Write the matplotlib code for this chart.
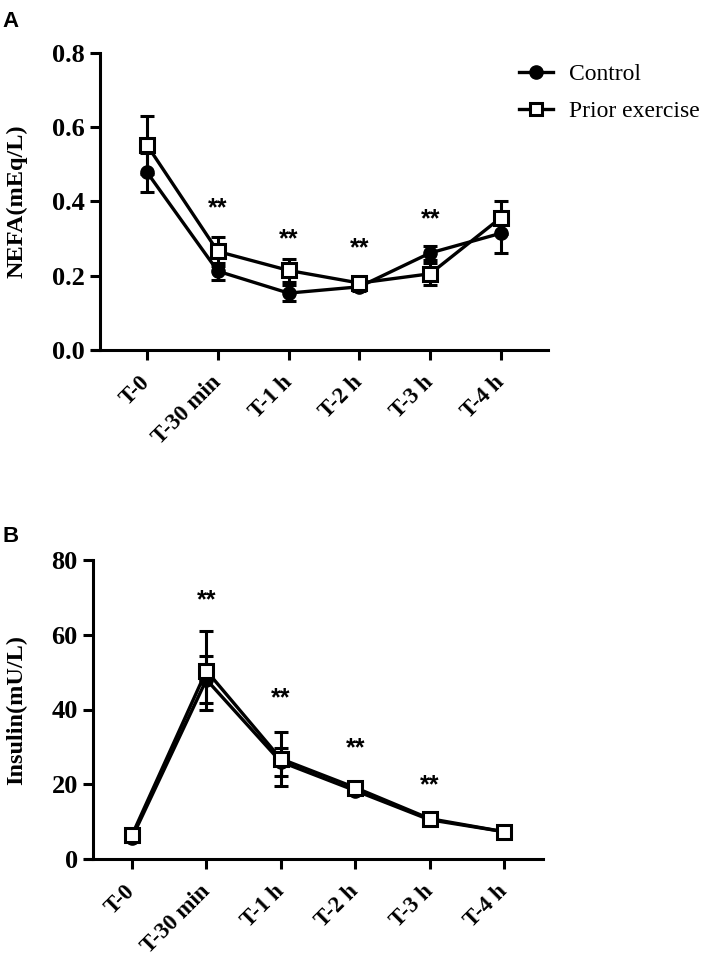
import numpy as np
import matplotlib
matplotlib.use('Agg')
import matplotlib.pyplot as plt
from matplotlib.lines import Line2D

times = ['T-0', 'T-30 min', 'T-1 h', 'T-2 h', 'T-3 h', 'T-4 h']

# NEFA (mEq/L)
nefa_control = [0.478, 0.212, 0.153, 0.170, 0.261, 0.314]
nefa_control_err = [0.052, 0.023, 0.022, 0.010, 0.020, 0.053]
nefa_prior = [0.551, 0.265, 0.214, 0.180, 0.205, 0.356]
nefa_prior_err = [0.078, 0.040, 0.032, 0.010, 0.030, 0.044]
nefa_stars = [None, 0.382, 0.298, 0.274, 0.351, None]

# Insulin (mU/L)
ins_control = [5.7, 48.0, 26.0, 18.3, 10.5, 7.3]
ins_control_err = [0.6, 6.3, 3.8, 1.0, 0.7, 0.5]
ins_prior = [6.4, 50.4, 26.8, 19.1, 10.8, 7.3]
ins_prior_err = [0.6, 10.6, 7.3, 1.0, 0.7, 0.5]
ins_stars = [None, 69.1, 43.1, 29.5, 19.8, None]

W, H = 709, 958
fig = plt.figure(figsize=(W / 100, H / 100), dpi=100)

serif = 'Liberation Serif'
sans = 'Liberation Sans'


def panel(rect, xlim, spine_x, ylim, yticks, yfmt, ylabel, ctl, ctl_e, pri, pri_e, stars):
    ax = fig.add_axes(rect)
    x = np.arange(len(times))
    ax.errorbar(x, ctl, yerr=ctl_e, color='black', lw=2.4, marker='o', ms=9.5,
                mfc='black', mec='black', capsize=5, capthick=2.2, elinewidth=2.2,
                zorder=3, clip_on=False)
    ax.errorbar(x, pri, yerr=pri_e, color='black', lw=2.4, marker='s', ms=10,
                mfc='white', mec='black', mew=2.2, capsize=5, capthick=2.2, elinewidth=2.2,
                zorder=4, clip_on=False)
    for xi, s in zip(x, stars):
        if s is not None:
            ax.text(xi, s, '**', ha='center', va='center', fontsize=18,
                    fontweight='bold', family=sans)
    ax.set_xlim(*xlim)
    ax.set_ylim(*ylim)
    ax.spines['top'].set_visible(False)
    ax.spines['right'].set_visible(False)
    ax.spines['left'].set_position(('data', spine_x))
    ax.spines['left'].set_linewidth(2.2)
    ax.spines['bottom'].set_linewidth(2.2)
    ax.set_yticks(yticks)
    ax.set_yticklabels([yfmt.format(v) for v in yticks], family=serif,
                       fontweight='bold', fontsize=19)
    ax.set_xticks(x)
    ax.set_xticklabels(times, rotation=45, ha='right', va='center',
                       rotation_mode='anchor', family=serif, fontweight='bold', fontsize=16.5)
    ax.tick_params(axis='both', width=2.2, length=7, direction='out')
    ax.tick_params(axis='x', pad=14)
    ax.tick_params(axis='y', pad=4)
    # y label placed in figure pixels so both panels line up
    fig.text(6 / W, rect[1] + rect[3] / 2, ylabel, rotation=90, ha='left', va='center',
             family=serif, fontweight='bold', fontsize=17.5)
    return ax


# Panel A
axA = panel([92 / W, 1 - 350 / H, 456 / W, 297.5 / H], (-0.777, 5.664), -0.664,
            (0, 0.8), [0.0, 0.2, 0.4, 0.6, 0.8], '{:.1f}', 'NEFA(mEq/L)',
            nefa_control, nefa_control_err, nefa_prior, nefa_prior_err, nefa_stars)

# Panel B
axB = panel([85 / W, 1 - 859 / H, 458 / W, 299 / H], (-0.632, 5.524), -0.524,
            (0, 80), [0, 20, 40, 60, 80], '{:.0f}', 'Insulin(mU/L)',
            ins_control, ins_control_err, ins_prior, ins_prior_err, ins_stars)

handles = [
    Line2D([], [], color='black', lw=2.4, marker='o', ms=9.5, mfc='black', mec='black'),
    Line2D([], [], color='black', lw=2.4, marker='s', ms=8, mfc='white', mec='black', mew=2.2),
]
fig.legend(handles, ['Control', 'Prior exercise'], loc='upper left',
           bbox_to_anchor=(510 / W, 1 - 54 / H),
           frameon=False, prop={'family': serif, 'size': 17}, handlelength=1.4,
           handletextpad=0.7, labelspacing=0.65, borderaxespad=0)

fig.text(2 / W, 1 - 11 / H, 'A', fontsize=16, fontweight='bold', family=sans, va='top')
fig.text(2 / W, 1 - 526 / H, 'B', fontsize=16, fontweight='bold', family=sans, va='top')

fig.savefig('out.png', dpi=100)
